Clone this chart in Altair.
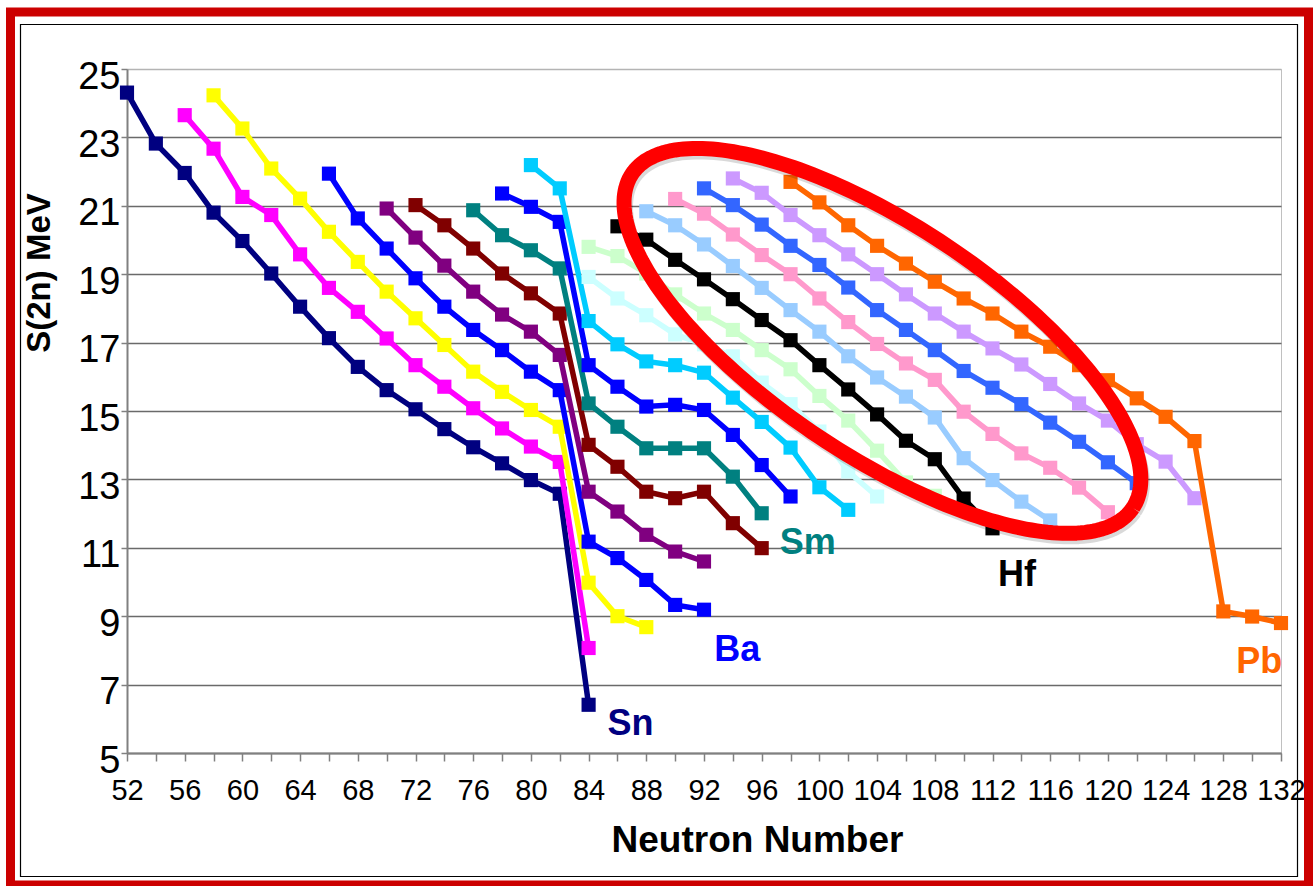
import altair as alt
import numpy as np
import pandas as pd

# Two-neutron separation energy S(2n) along even-N isotopic chains (MeV)
elements = ["Sn", "Te", "Xe", "Ba", "Ce", "Nd", "Sm", "Gd", "Dy",
            "Er", "Yb", "Hf", "W", "Os", "Pt", "Hg", "Pb"]
colors = ["#000080", "#FF00FF", "#FFFF00", "#0000FF", "#800080", "#800000",
          "#008080", "#0000FF", "#00CCFF", "#CCFFFF", "#CCFFCC", "#000000",
          "#99CCFF", "#FF99CC", "#3366FF", "#CC99FF", "#FF6600"]
first_n = [52, 56, 58, 66, 70, 72, 76, 78, 80, 84, 84, 86, 88, 90, 92, 94, 98]

s2n_sn = [24.31, 22.82, 21.96, 20.80, 19.97, 19.02, 18.05, 17.13, 16.29, 15.61,
          15.05, 14.47, 13.94, 13.47, 12.98, 12.58, 6.41]
s2n_te = [23.65, 22.67, 21.26, 20.73, 19.58, 18.60, 17.90, 17.12, 16.34, 15.71,
          15.08, 14.49, 13.96, 13.51, 8.07]
s2n_xe = [24.23, 23.26, 22.09, 21.21, 20.24, 19.36, 18.49, 17.71, 16.93, 16.15,
          15.56, 15.03, 14.54, 9.98, 9.00, 8.68]
s2n_ba = [21.94, 20.63, 19.75, 18.88, 18.05, 17.37, 16.78, 16.15, 15.61, 11.18,
          10.70, 10.06, 9.33, 9.19]
s2n_ce = [20.92, 20.07, 19.25, 18.49, 17.82, 17.32, 16.64, 12.64, 12.06, 11.38,
          10.89, 10.60]
s2n_nd = [21.02, 20.43, 19.75, 19.02, 18.44, 17.85, 14.01, 13.37, 12.64, 12.45,
          12.64, 11.72, 10.99]
s2n_sm = [20.87, 20.14, 19.70, 19.17, 15.22, 14.54, 13.91, 13.91, 13.91, 13.08,
          12.01]
s2n_gd = [21.36, 20.97, 20.53, 16.34, 15.71, 15.13, 15.18, 15.03, 14.30, 13.42,
          12.50]
s2n_dy = [22.19, 21.51, 17.63, 16.95, 16.45, 16.34, 16.12, 15.39, 14.68, 13.93,
          12.77, 12.11]
s2n_er = [18.92, 18.29, 17.80, 17.24, 16.95, 16.60, 15.83, 15.20, 14.40, 13.23,
          12.50]
s2n_yb = [19.80, 19.53, 19.02, 18.41, 17.85, 17.37, 16.78, 16.22, 15.44, 14.72,
          13.84, 12.91, 12.52]
s2n_hf = [20.40, 20.01, 19.42, 18.85, 18.27, 17.66, 17.07, 16.34, 15.63, 14.90,
          14.13, 13.59, 12.44, 11.57]
s2n_w = [20.84, 20.43, 19.87, 19.24, 18.60, 17.95, 17.32, 16.60, 15.98, 15.42,
         14.81, 13.62, 12.98, 12.35, 11.80]
s2n_os = [21.20, 20.77, 20.16, 19.56, 19.00, 18.29, 17.60, 16.96, 16.39, 15.91,
          14.98, 14.33, 13.76, 13.34, 12.76, 12.04]
s2n_pt = [21.51, 21.02, 20.45, 19.83, 19.27, 18.61, 17.95, 17.37, 16.78, 16.17,
          15.68, 15.20, 14.66, 14.10, 13.50, 12.89]
s2n_hg = [21.80, 21.38, 20.73, 20.14, 19.58, 19.00, 18.41, 17.85, 17.32, 16.83,
          16.36, 15.79, 15.22, 14.72, 14.03, 13.52, 12.45]
s2n_pb = [21.70, 21.10, 20.43, 19.83, 19.31, 18.78, 18.29, 17.85, 17.32, 16.88,
          16.34, 15.90, 15.37, 14.83, 14.12, 9.14, 8.99, 8.80]

chains = [s2n_sn, s2n_te, s2n_xe, s2n_ba, s2n_ce, s2n_nd, s2n_sm, s2n_gd, s2n_dy,
          s2n_er, s2n_yb, s2n_hf, s2n_w, s2n_os, s2n_pt, s2n_hg, s2n_pb]

# Chain name labels: text, neutron number, MeV, colour
label_text = ["Sn", "Ba", "Sm", "Hf", "Pb"]
label_n = [86.9, 94.3, 99.2, 113.7, 130.5]
label_s = [5.86, 8.0, 11.14, 10.2, 7.65]
label_color = ["#000080", "#0000FF", "#008080", "#000000", "#FF6600"]

# Highlighted deformed region: ellipse centre (N, MeV), semi-axes in px, tilt
ell_center_n, ell_center_s = 104.37, 17.05
ell_a, ell_b, ell_tilt = 301, 115, 33.7

W, H = 1154, 684
N_MIN, N_MAX, S_MIN, S_MAX = 52, 132, 5, 25
FONT = "Liberation Sans"
Y_TITLE = "S(2n) MeV"

xscale = alt.Scale(domain=[N_MIN, N_MAX], nice=False, zero=False)
yscale = alt.Scale(domain=[S_MIN, S_MAX], nice=False, zero=False)

xaxis = alt.Axis(
    values=list(range(N_MIN, N_MAX + 1, 2)),
    labelExpr="datum.value % 4 == 0 ? datum.label : ''",
    grid=False, tickSize=8, tickColor="#808080", tickWidth=1.5,
    domainColor="#808080", domainWidth=2,
    labelFont=FONT, labelFontSize=29, labelColor="black", labelPadding=15,
    labelFlush=False, labelOverlap=False,
    title="Neutron Number", titleFont=FONT, titleFontSize=37,
    titleFontWeight="bold", titleColor="black",
    titleX=630, titleY=87, titleBaseline="middle",
)
yaxis = alt.Axis(
    values=list(range(S_MIN, S_MAX + 1, 2)),
    grid=True,
    gridColor=alt.condition("datum.value == 25", alt.value("#b4b4b4"), alt.value("#6a6a6a")),
    gridWidth=1.3,
    tickSize=6, tickColor="#808080", tickWidth=1.5,
    domainColor="#808080", domainWidth=2,
    labelFont=FONT, labelFontSize=38, labelColor="black", labelPadding=1,
    labelOffset=8, labelFlush=False, labelOverlap=False,
    title=None,
)

one_row = pd.DataFrame({"k": [0]})

# Red outer frame and thin black inner frame of the slide
frame_red = alt.Chart(one_row).mark_rect(
    filled=False, stroke="#CC0000", strokeWidth=9
).encode(x=alt.value(-116.5), x2=alt.value(1181.5),
         y=alt.value(-57), y2=alt.value(816))
frame_black = alt.Chart(one_row).mark_rect(
    filled=False, stroke="#000000", strokeWidth=1.2
).encode(x=alt.value(-106.5), x2=alt.value(1170.5),
         y=alt.value(-44.5), y2=alt.value(807.5))

# Vertical axis title, placed beside the axis
y_title = alt.Chart(pd.DataFrame({"t": [Y_TITLE]})).mark_text(
    font=FONT, fontSize=33, fontWeight="bold", angle=270,
    align="center", baseline="middle", color="black",
).encode(x=alt.value(-87), y=alt.value(204), text="t:N")

layers = [frame_red, frame_black, y_title]

for el, col, n0, vals in zip(elements, colors, first_n, chains):
    d = pd.DataFrame({"N": list(range(n0, n0 + 2 * len(vals), 2)), "S": vals})
    base = alt.Chart(d).encode(
        x=alt.X("N:Q", scale=xscale, axis=xaxis),
        y=alt.Y("S:Q", scale=yscale, axis=yaxis),
    )
    layers.append(base.mark_line(color=col, strokeWidth=5.5))
    layers.append(base.mark_square(color=col, size=200, opacity=1))

labels = pd.DataFrame({"t": label_text, "N": label_n, "S": label_s, "c": label_color})
layers.append(
    alt.Chart(labels).mark_text(font=FONT, fontSize=36, fontWeight="bold",
                                align="center", baseline="middle").encode(
        x=alt.X("N:Q", scale=xscale, axis=xaxis),
        y=alt.Y("S:Q", scale=yscale, axis=yaxis),
        text="t:N",
        color=alt.Color("c:N", scale=None),
    )
)

# Ellipse outline, traced in data units from its pixel-space shape
px_n = W / (N_MAX - N_MIN)
px_s = H / (S_MAX - S_MIN)
t = np.linspace(0, 2 * np.pi, 241)
th = np.radians(ell_tilt)
dx = ell_a * np.cos(t) * np.cos(th) - ell_b * np.sin(t) * np.sin(th)
dy = ell_a * np.cos(t) * np.sin(th) + ell_b * np.sin(t) * np.cos(th)
ellipse = pd.DataFrame({"N": ell_center_n + dx / px_n,
                        "S": ell_center_s - dy / px_s,
                        "i": np.arange(len(t))})
ell_base = alt.Chart(ellipse).encode(
    x=alt.X("N:Q", scale=xscale, axis=xaxis),
    y=alt.Y("S:Q", scale=yscale, axis=yaxis),
    order="i:Q",
)
layers.append(ell_base.mark_line(color="#000000", opacity=0.15, strokeWidth=14,
                                 xOffset=2, yOffset=4, strokeJoin="round"))
layers.append(ell_base.mark_line(color="#FF0000", strokeWidth=15, strokeJoin="round"))

chart = alt.layer(*layers).properties(
    width=W, height=H,
    padding={"left": 127, "top": 69, "right": 33, "bottom": 133},
    autosize=alt.AutoSizeParams(type="none"),
    background="white",
).configure_view(stroke="#c0c0c0", strokeWidth=1)

chart.save("out.html", embed_options={"renderer": "svg", "actions": False})
